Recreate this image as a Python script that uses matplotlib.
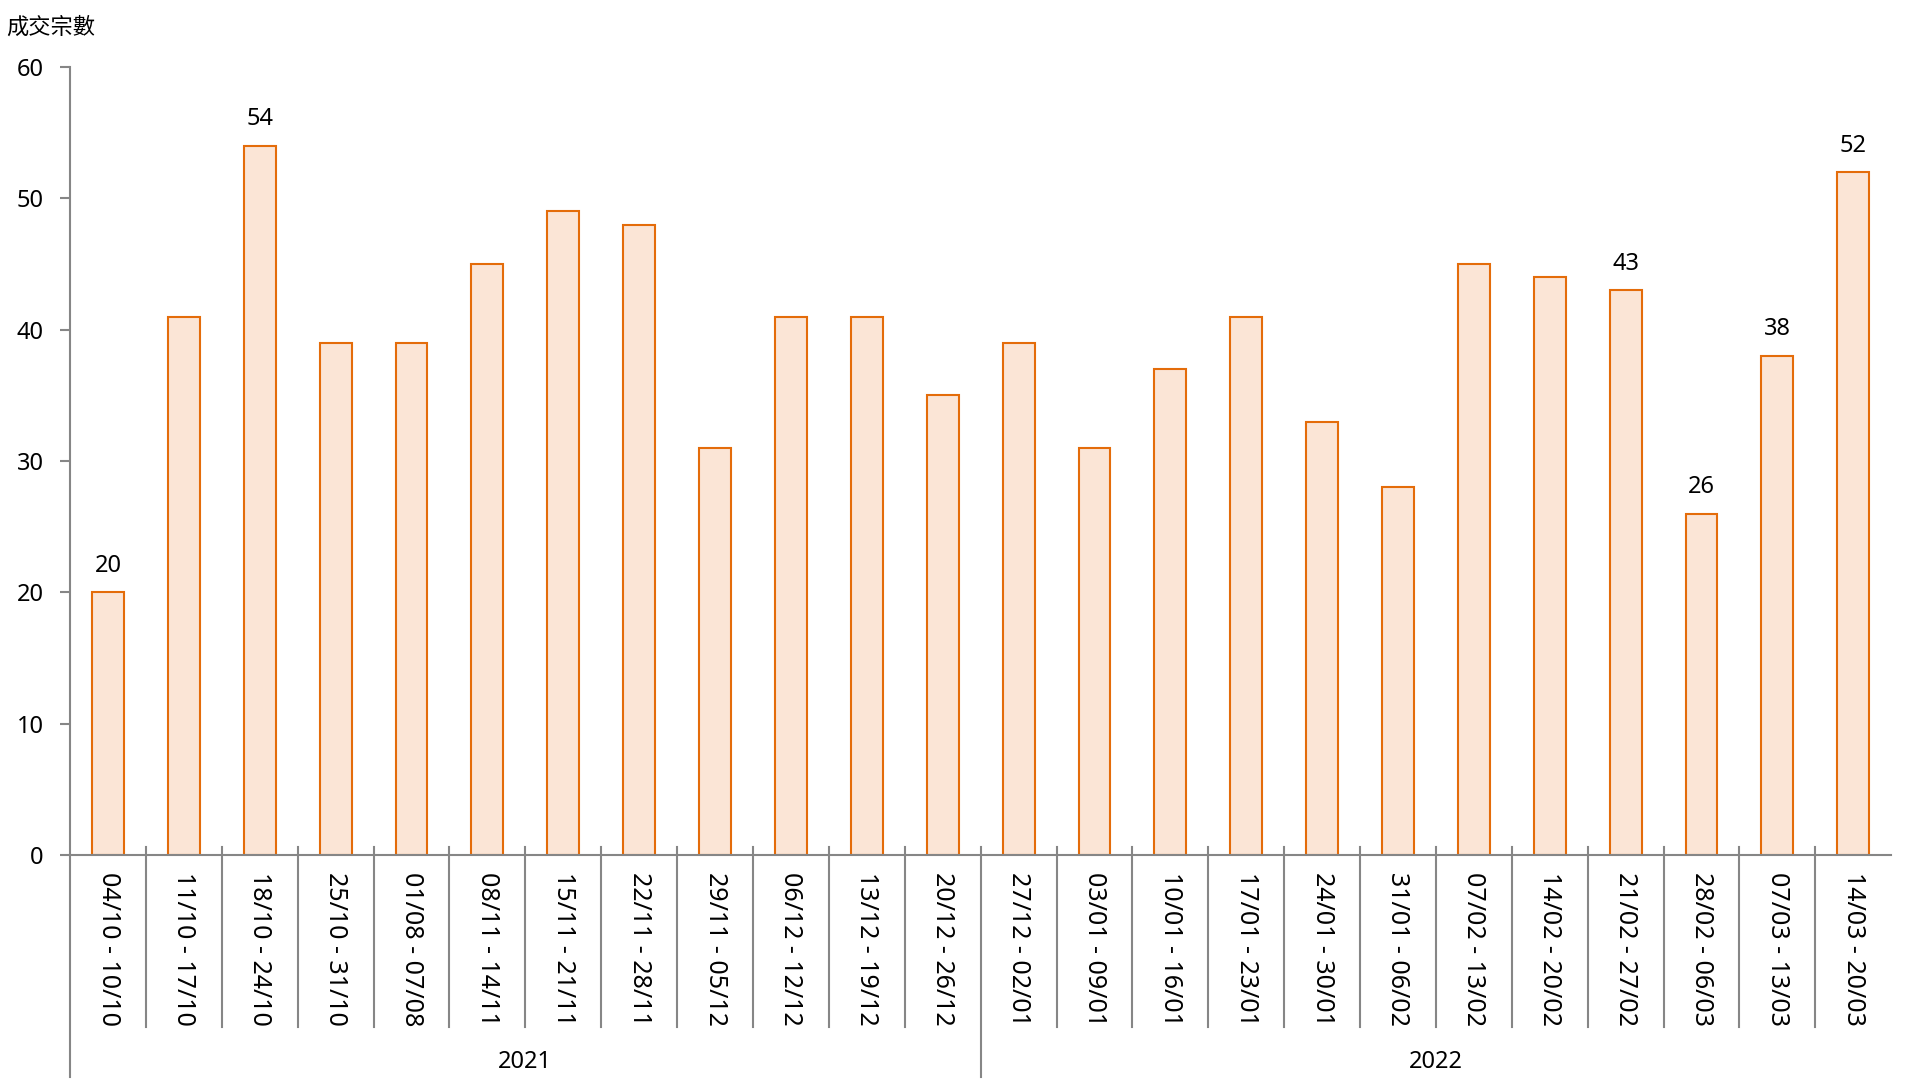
import matplotlib
matplotlib.use("Agg")
import matplotlib.pyplot as plt
from matplotlib.transforms import blended_transform_factory

plt.rcParams["font.family"] = ["Noto Sans", "Noto Sans CJK TC", "DejaVu Sans"]

weeks = [
    "04/10 - 10/10", "11/10 - 17/10", "18/10 - 24/10", "25/10 - 31/10",
    "01/08 - 07/08", "08/11 - 14/11", "15/11 - 21/11", "22/11 - 28/11",
    "29/11 - 05/12", "06/12 - 12/12", "13/12 - 19/12", "20/12 - 26/12",
    "27/12 - 02/01", "03/01 - 09/01", "10/01 - 16/01", "17/01 - 23/01",
    "24/01 - 30/01", "31/01 - 06/02", "07/02 - 13/02", "14/02 - 20/02",
    "21/02 - 27/02", "28/02 - 06/03", "07/03 - 13/03", "14/03 - 20/03",
]
deals = [20, 41, 54, 39, 39, 45, 49, 48, 31, 41, 41, 35,
         39, 31, 37, 41, 33, 28, 45, 44, 43, 26, 38, 52]
labelled = [0, 2, 20, 21, 22, 23]
years = ["2021", "2022"]
year_counts = [12, 12]

edge = "#E46C0A"
fill = "#FBE5D6"
axis_col = "#868686"

fig = plt.figure(figsize=(19.2, 10.8), dpi=100)
ax = fig.add_axes([0.0365, 0.2083, 0.9485, 0.7297])

x = list(range(len(deals)))
ax.bar(x, deals, width=0.42, color=fill, edgecolor=edge, linewidth=1.5, zorder=2)

for i in labelled:
    ax.text(i, deals[i] + 1.1, str(deals[i]), ha="center", va="bottom", fontsize=17)

ax.set_xlim(-0.5, len(deals) - 0.5)
ax.set_ylim(0, 60)
ax.set_yticks(range(0, 61, 10))
ax.tick_params(axis="y", labelsize=17, length=7, color=axis_col, width=1.5, pad=12)

for s in ["top", "right"]:
    ax.spines[s].set_visible(False)
for s in ["left", "bottom"]:
    ax.spines[s].set_color(axis_col)
    ax.spines[s].set_linewidth(1.5)
ax.spines["left"].set_bounds(0, 60)

# category labels, rotated
ax.set_xticks(x)
ax.set_xticklabels(weeks, rotation=270, fontsize=18)
ax.tick_params(axis="x", length=0, pad=12)

trans = blended_transform_factory(ax.transData, ax.transAxes)
# category separators
bounds = [0]
for c in year_counts:
    bounds.append(bounds[-1] + c)
for k in range(1, len(deals)):
    bottom = -0.282 if k in bounds else -0.218
    ax.plot([k - 0.5, k - 0.5], [0.0102, bottom], color=axis_col, lw=1.5,
            transform=trans, clip_on=False)
ax.plot([-0.5, -0.5], [0, -0.282], color=axis_col, lw=1.5,
        transform=trans, clip_on=False)

for yr, a, b in zip(years, bounds[:-1], bounds[1:]):
    ax.text((a + b - 1) / 2, -0.262, yr, transform=trans, ha="center",
            va="center", fontsize=17)

fig.text(0.003, 0.974, "成交宗數", fontsize=16, ha="left", va="center")

fig.savefig("out.png", dpi=100)
